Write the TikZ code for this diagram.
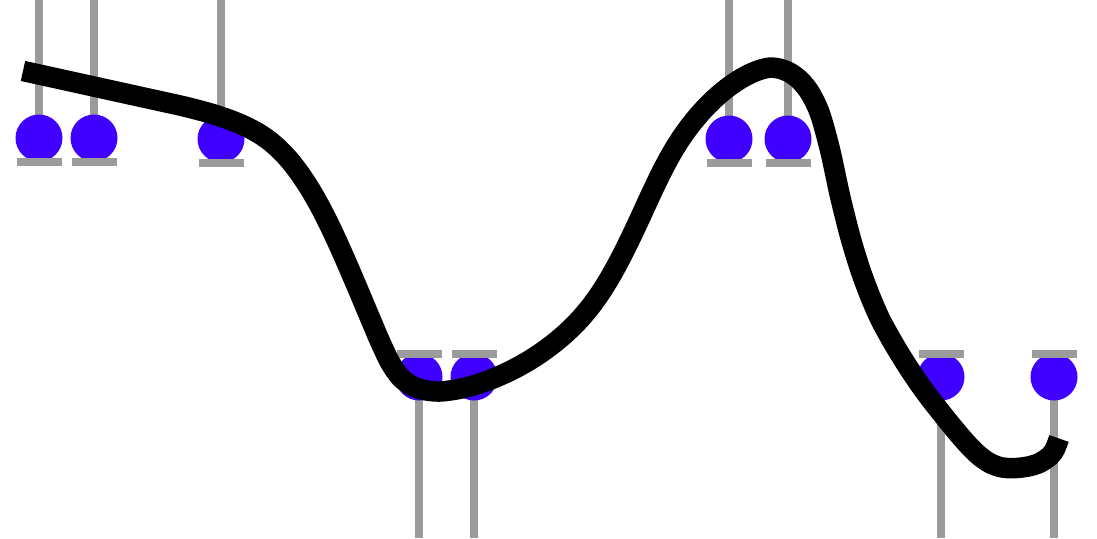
\documentclass[tikz,border=0pt]{standalone}
\begin{document}
\definecolor{rodgray}{RGB}{155,155,155}
\definecolor{ballblue}{RGB}{64,0,255}
\begin{tikzpicture}[x=1pt,y=-1pt,
  ballnode/.style={circle, fill=ballblue, draw=none, minimum size=47pt, inner sep=0pt},
  barnode/.style={rectangle, fill=rodgray, draw=none, minimum width=45pt, minimum height=8pt, inner sep=0pt},
  rodline/.style={draw=rodgray, line width=8pt},
  wire/.style={draw=black, line width=20.5pt, line join=round}]
\useasboundingbox (0,0) rectangle (1097,538);
\coordinate (top) at (0,0);
\coordinate (bot) at (0,538);
% ball centres
\coordinate (c1) at (39,138);
\coordinate (c2) at (94,138);
\coordinate (c3) at (221,139);
\coordinate (c4) at (729,139);
\coordinate (c5) at (788,139);
\coordinate (d1) at (419,377);
\coordinate (d2) at (474,377);
\coordinate (d3) at (941,377);
\coordinate (d4) at (1054,377);
% rods
\foreach \c in {c1,c2,c3,c4,c5} \draw[rodline] (\c) -- (\c |- top);
\foreach \c in {d1,d2,d3,d4} \draw[rodline] (\c) -- (\c |- bot);
% balls
\foreach \c in {c1,c2,c3,c4,c5,d1,d2,d3,d4} \node[ballnode] (b\c) at (\c) {};
% bars
\foreach \c in {c1,c2,c3,c4,c5} \node[barnode] (bar\c) at ([yshift=-24pt]\c) {};
\foreach \c in {d1,d2,d3,d4} \node[barnode] (bar\c) at ([yshift=23.5pt]\c) {};
% curve
\draw[wire] plot[smooth, tension=0.5] coordinates {
 (23,71) (40,74.7) (60,79.1) (80,83.5) (100,87.9) (120,92.3) (140,96.7)
 (160,101.1) (180,105.5) (190,107.9) (200,110.5) (210,113.3) (220,116.4)
 (230,119.9) (240,123.9) (250,128.6) (260,134.2) (270,141.2) (280,150.0)
 (290,160.8) (300,173.8) (310,189.0) (320,206.5) (330,226.2) (340,247.7)
 (350,270.5) (360,294.0) (370,317.8) (380,341.3) (390,362.3) (400,376.8)
 (410,384.8) (420,389.0) (430,391.0) (440,391.5) (450,390.5) (460,388.8)
 (470,386.4) (480,383.4) (490,379.8) (500,375.6) (510,371.0) (520,365.8)
 (530,360.0) (540,353.5) (550,346.3) (560,338.3) (570,329.3) (580,319.1)
 (590,307.3) (600,293.5) (610,277.5) (620,259.3) (630,239.3) (640,218.1)
 (650,196.3) (660,175.3) (670,156.3) (680,139.8) (690,125.8) (700,113.6)
 (710,103.0) (720,93.8) (730,85.9) (740,79.2) (750,73.8) (760,69.8)
 (770,67.6) (780,68.8) (790,72.8) (800,80.3) (810,92.8) (820,113.8)
 (830,149.8) (840,195.8) (850,235.8) (860,268.8) (870,295.8) (880,318.8)
 (890,337.3) (900,354.3) (910,370.1) (920,384.8) (930,398.5) (940,411.2)
 (950,423.7) (960,435.7) (970,446.9) (980,456.4) (990,463.2) (1000,467.0)
 (1010,468.2) (1020,467.7) (1030,466.1) (1040,462.7) (1050,455.9)
 (1055,448.9) (1059,438.5)};
\end{tikzpicture}
\end{document}
